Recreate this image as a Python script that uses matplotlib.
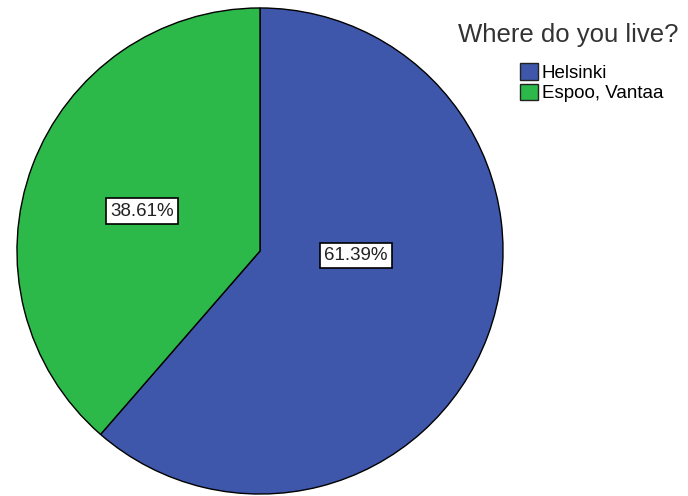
import numpy as np
import matplotlib.pyplot as plt
from matplotlib.patches import Patch

# Dados
categorias = ["Helsinki", "Espoo, Vantaa"]
percentuais = [61.39, 38.61]
cores = ["#3e57ab", "#2db84a"]

plt.rcParams['font.family'] = ['Liberation Sans', 'DejaVu Sans']

fig = plt.figure(figsize=(6.88, 4.96), dpi=100)
# eixo quadrado: centro em (260, 251) px, raio ~243 px
ax = fig.add_axes([16 / 688, 1 / 496, 488 / 688, 488 / 496])

fatias, _ = ax.pie(percentuais, colors=cores, startangle=90, counterclock=False,
                   wedgeprops=dict(edgecolor="black", linewidth=1.0))
ax.set_xlim(-1.004, 1.004)
ax.set_ylim(-1.004, 1.004)
ax.set_aspect("equal")

# posição dos rótulos dentro das fatias (raio relativo, ângulo)
pos_rotulos = [(0.395, -2.5), (0.513, 161.3)]
for p, (r, ang) in zip(percentuais, pos_rotulos):
    a = np.deg2rad(ang)
    ax.text(r * np.cos(a), r * np.sin(a), f"{p:.2f}%", ha="center", va="center",
            fontsize=13.5, color="#222222",
            bbox=dict(boxstyle="square,pad=0.22", fc="white", ec="black", lw=1.2))

fig.text(0.826, 0.93, "Where do you live?", ha="center", va="center",
         fontsize=18.5, color="#333333")

handles = [Patch(facecolor=c, edgecolor="#222222", label=n) for c, n in zip(cores, categorias)]
fig.legend(handles=handles, loc="upper left", bbox_to_anchor=(0.756, 0.873),
           frameon=False, fontsize=13.5, handlelength=0.95, handleheight=1.0,
           handletextpad=0.2, labelspacing=0.1, borderpad=0, borderaxespad=0)

plt.savefig("out.png", dpi=100)
